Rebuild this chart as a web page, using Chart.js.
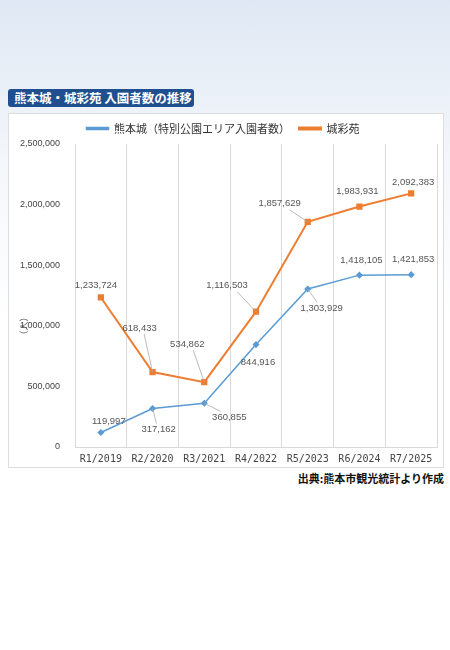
<!DOCTYPE html>
<html><head><meta charset="utf-8">
<script src="https://cdn.jsdelivr.net/npm/chart.js@4"></script>
<style>
body{margin:0;width:450px;height:650px;background:linear-gradient(180deg,#dfe8f4 0%,#f4f7fb 25%,#ffffff 50%);font-family:"Noto Sans CJK JP",sans-serif;position:relative;overflow:hidden}
#title{position:absolute;left:8px;top:89px;width:186px;height:18px;background:#1f4f8f;border-radius:3px;color:#fff;font-weight:bold;font-size:12.5px;line-height:18px;padding-left:6px;box-sizing:border-box}
#box{position:absolute;left:8px;top:113px;width:436px;height:355px;background:#fff;border:1px solid #ddd;box-sizing:border-box}
#src{position:absolute;right:6px;top:470px;font-weight:bold;font-size:11px;color:#111}
</style></head><body>
<div id="title">熊本城・城彩苑 入園者数の推移</div>
<div id="box"><canvas id="c" width="434" height="353"></canvas></div>
<div id="src">出典:熊本市観光統計より作成</div>
<script>
const categories = ['R1/2019','R2/2020','R3/2021','R4/2022','R5/2023','R6/2024','R7/2025'];
const castleValues = [119997, 317162, 360855, 844916, 1303929, 1418105, 1421853];
const johsaienValues = [1233724, 618433, 534862, 1116503, 1857629, 1983931, 2092383];
const yTicks = [0, 500000, 1000000, 1500000, 2000000, 2500000];

// label offsets from each point [dx, dy, leader]
const castleOff = [[8,-11,0],[6,21,1],[25,14,1],[2,18,0],[14,19,1],[2,-15,0],[2,-15,0]];
const johOff = [[-5,-12,0],[-13,-44,1],[-17,-38,1],[-29,-26,1],[-28,-18,1],[-2,-15,0],[2,-11,0]];

const fmt = v => v.toLocaleString('en-US');

const labelPlugin = {
  id: 'labels',
  afterDatasetsDraw(chart) {
    const ctx = chart.ctx;
    ctx.save();
    ctx.font = '9.5px "Liberation Sans", sans-serif';
    ctx.textAlign = 'center';
    ctx.textBaseline = 'middle';
    [castleOff, johOff].forEach((offs, di) => {
      const meta = chart.getDatasetMeta(di);
      const data = chart.data.datasets[di].data;
      meta.data.forEach((pt, i) => {
        const [dx, dy, lead] = offs[i];
        const lx = pt.x + dx, ly = pt.y + dy;
        if (lead) {
          ctx.strokeStyle = '#aaa'; ctx.lineWidth = 0.8;
          ctx.beginPath(); ctx.moveTo(pt.x, pt.y);
          ctx.lineTo(lx - dx * 0.35, ly + (dy > 0 ? -6 : 6)); ctx.stroke();
        }
        ctx.fillStyle = '#555';
        ctx.fillText(fmt(data[i]), lx, ly);
      });
    });
    // y axis unit
    ctx.translate(15, 212); ctx.rotate(-Math.PI / 2);
    ctx.font = '9px "Noto Sans CJK JP"'; ctx.fillText('（人）', 0, 0);
    ctx.restore();
  }
};

new Chart(document.getElementById('c'), {
  type: 'line',
  data: {
    labels: categories,
    datasets: [
      { label: '熊本城（特別公園エリア入園者数）', data: castleValues, borderColor: '#5b9bd5', backgroundColor: '#5b9bd5',
        borderWidth: 1.5, pointStyle: 'rectRot', pointRadius: 2.5, tension: 0 },
      { label: '城彩苑', data: johsaienValues, borderColor: '#ed7d31', backgroundColor: '#ed7d31',
        borderWidth: 2, pointStyle: 'rect', pointRadius: 3, tension: 0 }
    ]
  },
  options: {
    responsive: false, animation: false,
    layout: { padding: { left: 0, right: 6, top: 0, bottom: 0 } },
    plugins: {
      tooltip: { enabled: false },
      legend: { position: 'top', labels: { boxWidth: 22, boxHeight: 2, color: '#333',
        font: { size: 11, family: '"Noto Sans CJK JP"' }, padding: 9 } }
    },
    scales: {
      x: { offset: true, grid: { color: '#d9d9d9', offset: true, drawTicks: false }, border: { color: '#d9d9d9' },
        afterFit: s => { s.height = 20; },
        ticks: { color: '#444', padding: 6, font: { size: 10, family: '"DejaVu Sans Mono"' } } },
      y: { min: 0, max: 2500000, afterFit: s => { s.width = 66; },
        afterBuildTicks: s => { s.ticks = yTicks.map(v => ({ value: v })); },
        grid: { display: false }, border: { display: false },
        ticks: { color: '#444', padding: 7, callback: v => fmt(v), font: { size: 9, family: '"Liberation Sans"' } } }
    }
  },
  plugins: [labelPlugin]
});
</script>
</body></html>
